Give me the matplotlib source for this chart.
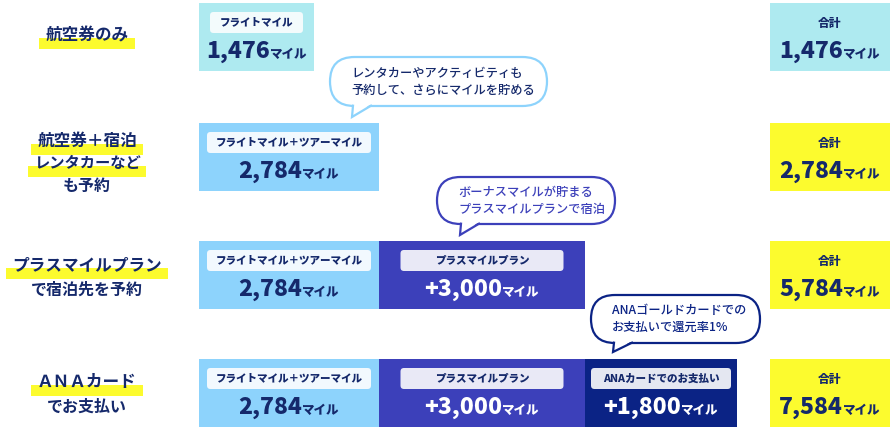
import matplotlib
matplotlib.use("Agg")
import matplotlib.pyplot as plt
from matplotlib.patches import Rectangle, FancyBboxPatch, Polygon

plt.rcParams['font.family'] = ['Noto Sans CJK JP', 'DejaVu Sans']

# ---- data ----
row_labels = [["航空券のみ"],
              ["航空券＋宿泊", "レンタカーなど", "も予約"],
              ["プラスマイルプラン", "で宿泊先を予約"],
              ["ＡＮＡカード", "でお支払い"]]
row_highlight = [[True], [True, True, False], [True, False], [True, False]]
segment_names = ["フライトマイル", "フライトマイル＋ツアーマイル", "プラスマイルプラン", "ANAカードでのお支払い"]
row_kinds = [[0], [1], [1, 2], [1, 2, 3]]
row_miles = [[1476], [2784], [2784, 3000], [2784, 3000, 1800]]
unit = "マイル"
total_label = "合計"
callout_texts = [["レンタカーやアクティビティも", "予約して、さらにマイルを貯める"],
                 ["ボーナスマイルが貯まる", "プラスマイルプランで宿泊"],
                 ["ANAゴールドカードでの", "お支払いで還元率1%"]]

# ---- style / layout ----
TXT = '#15296b'
CYAN = '#aeeaf0'
LIGHT = '#8dd3fc'
BLUE = '#3c40ba'
NAVY = '#0b2385'
YELLOW = '#fcfb2e'

# x0, x1, fill, label box width, value colour, label box colour
kinds = [(199, 314, CYAN, 93, TXT, '#f3fbfc'),
         (199, 379, LIGHT, 164, TXT, '#f2f9fe'),
         (379, 585, BLUE, 163, 'white', '#e9e9f6'),
         (585, 737, NAVY, 140, 'white', '#e4e7f1')]
row_tops = [3, 123, 241, 359]
row_h = 68
total_x = (770, 890)
label_y = {1: [35], 2: [141, 163, 186], 3: [265, 290], 4: [382, 407]}
label_fs = {1: [12], 2: [12, 11, 11.5], 3: [12, 11.5], 4: [12, 11.5]}

# bubble box (x0, y0, x1, y1), tail tip, outline colour, text colour
callouts = [((330, 57, 547, 106), (352, 117), LIGHT, TXT),
            ((437, 177, 615, 224), (460, 235), BLUE, BLUE),
            ((591, 295, 760, 343), (613, 352), NAVY, NAVY)]

fig = plt.figure(figsize=(8.9, 4.3), dpi=100)
ax = fig.add_axes([0, 0, 1, 1])
ax.set_xlim(0, 890)
ax.set_ylim(430, 0)
ax.axis('off')
renderer = fig.canvas.get_renderer()


def width_of(t):
    bb = t.get_window_extent(renderer=renderer)
    return bb.width


def value_text(cx, base_y, num, color):
    a = ax.text(0, base_y, num, fontsize=16.5, fontweight='heavy', color=color,
                ha='left', va='baseline', zorder=5)
    b = ax.text(0, base_y, unit, fontsize=9, fontweight='heavy', color=color,
                ha='left', va='baseline', zorder=5)
    wa, wb = width_of(a), width_of(b)
    left = cx - (wa + wb) / 2
    a.set_x(left)
    b.set_x(left + wa)


# left labels with highlighter
for i, lines in enumerate(row_labels):
    for j, line in enumerate(lines):
        y = label_y[i + 1][j]
        fs = label_fs[i + 1][j]
        t = ax.text(87, y, line, fontsize=fs, fontweight='semibold', color=TXT,
                    ha='center', va='center', zorder=3)
        if row_highlight[i][j]:
            w = width_of(t)
            ax.add_patch(Rectangle((87 - w / 2 - 6, y + 3), w + 12, 11,
                                   facecolor=YELLOW, edgecolor='none', zorder=2))

# segments
for i, top in enumerate(row_tops):
    for k, miles, n in zip(row_kinds[i], row_miles[i], range(len(row_kinds[i]))):
        x0, x1, fill, lw, vc, lc = kinds[k]
        ax.add_patch(Rectangle((x0, top), x1 - x0, row_h, facecolor=fill,
                               edgecolor='none', zorder=1))
        cx = (x0 + x1) / 2
        ax.add_patch(FancyBboxPatch((cx - lw / 2, top + 9), lw, 21,
                                    boxstyle='round,pad=0,rounding_size=3.5',
                                    facecolor=lc, edgecolor='none', zorder=2))
        ax.text(cx, top + 19.5, segment_names[k], fontsize=7.6, fontweight='heavy',
                color=TXT, ha='center', va='center', zorder=3)
        num = f"{miles:,}" if n == 0 else f"+{miles:,}"
        value_text(cx, top + 55, num, vc)
    # total
    total = sum(row_miles[i])
    fill = CYAN if i == 0 else YELLOW
    ax.add_patch(Rectangle((total_x[0], top), total_x[1] - total_x[0], row_h,
                           facecolor=fill, edgecolor='none', zorder=1))
    tcx = (total_x[0] + total_x[1]) / 2
    ax.text(tcx, top + 20, total_label, fontsize=8.5, fontweight='heavy', color=TXT,
            ha='center', va='center', zorder=3)
    value_text(tcx, top + 55, f"{total:,}", TXT)

# callouts
for (box, tip, ec, tc), lines in zip(callouts, callout_texts):
    bx0, by0, bx1, by1 = box
    h = by1 - by0
    ax.add_patch(FancyBboxPatch((bx0, by0), bx1 - bx0, h,
                                boxstyle=f'round,pad=0,rounding_size={h / 2}',
                                facecolor='white', edgecolor=ec, linewidth=1.6, zorder=4))
    tx, ty = tip
    base_l, base_r = tx + 1, tx + 19
    ax.add_patch(Polygon([(base_l, by1 - 2), (tx, ty), (base_r, by1 - 2)],
                         closed=True, facecolor='white', edgecolor='none', zorder=5))
    ax.plot([base_l, tx, base_r], [by1 - 0.3, ty, by1 - 0.3], color=ec,
            linewidth=1.6, solid_joinstyle='miter', zorder=6)
    mid = (by0 + by1) / 2
    for j, line in enumerate(lines):
        ax.text(bx0 + 21, mid - 8.5 + 17 * j, line, fontsize=8.8, fontweight='medium',
                color=tc, ha='left', va='center', zorder=7)

fig.savefig('out.png', dpi=100)
